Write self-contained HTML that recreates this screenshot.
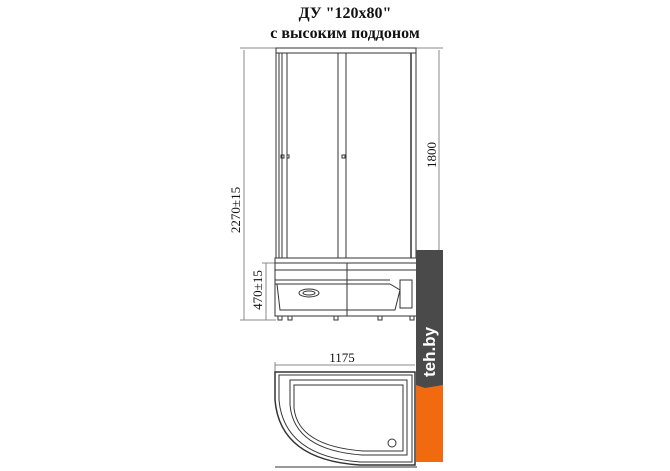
<!DOCTYPE html>
<html><head><meta charset="utf-8"><style>
html,body{margin:0;padding:0;background:#fff;width:670px;height:471px;overflow:hidden}
svg{display:block}
text{font-family:"Liberation Serif","Noto Serif CJK SC",serif;fill:#111}
</style></head><body>
<svg width="670" height="471" viewBox="0 0 670 471" xmlns="http://www.w3.org/2000/svg">
<text x="345" y="18" font-size="16" font-weight="bold" text-anchor="middle">ДУ "120x80"</text>
<text x="345" y="38" font-size="16" font-weight="bold" text-anchor="middle">с высоким поддоном</text>
<g stroke="#333" fill="none" stroke-width="1">
<line x1="244" y1="50" x2="244" y2="320" stroke="#888"/>
<line x1="240" y1="48" x2="276" y2="48" stroke="#888"/>
<line x1="240" y1="320" x2="276" y2="320" stroke="#888"/>
<line x1="266" y1="263" x2="266" y2="320" stroke="#888"/>
<line x1="262" y1="263" x2="276" y2="263" stroke="#888"/>
<line x1="439" y1="50" x2="439" y2="258" stroke="#888"/>
<line x1="416" y1="48" x2="443" y2="48" stroke="#888"/>
<rect x="276" y="48" width="140" height="210"/>
<line x1="276" y1="53" x2="416" y2="53"/>
<line x1="279" y1="53" x2="279" y2="258"/>
<line x1="282" y1="53" x2="282" y2="258"/>
<line x1="287" y1="53" x2="287" y2="258"/>
<line x1="338" y1="53" x2="338" y2="258"/>
<line x1="346" y1="53" x2="346" y2="258"/>
<line x1="411" y1="53" x2="411" y2="258" stroke-width="1.5"/>
<rect x="281" y="155" width="3" height="3"/><rect x="287" y="155" width="2" height="3"/>
<rect x="342" y="155" width="3" height="3"/>
<rect x="275" y="258" width="142" height="5"/>
<rect x="275" y="263" width="142" height="53"/>
<line x1="275" y1="270" x2="417" y2="270"/>
<line x1="275" y1="280" x2="390" y2="280"/>
<line x1="275" y1="284" x2="390" y2="284"/>
<line x1="347" y1="263" x2="347" y2="316"/>
<path d="M277 284 L280 310 L395 310 L400 290 L390 284"/>
<rect x="400" y="280" width="12" height="28"/>
<ellipse cx="309" cy="293" rx="10" ry="4"/>
<ellipse cx="309" cy="293" rx="6" ry="2"/>
<path d="M278 316v4h4v-4M288 316v4h4v-4M334 316v4h4v-4M378 316v4h4v-4M410 316v4h4v-4"/>
<line x1="275" y1="365" x2="415" y2="365" stroke="#888"/>
<line x1="275" y1="362" x2="275" y2="372" stroke="#888"/>
<path d="M275 372 L415 372 L415 465 L360 465 Q280 460 275 400 Z" stroke-width="1.5"/>
<path d="M279 375 L412 375 L412 462 L360 462 Q284 456 279 400 Z"/>
<path d="M290 380 L407 380 L407 455 L362 455 Q294 450 290 405 Z"/>
<path d="M294 385 L403 385 L403 451 L363 451 Q298 446 294 408 Z"/>
<circle cx="392" cy="443" r="4"/>
<line x1="275" y1="467" x2="417" y2="467"/>
</g>
<text font-size="13" transform="translate(240,210) rotate(-90)" text-anchor="middle">2270±15</text>
<text font-size="13" transform="translate(262,290) rotate(-90)" text-anchor="middle">470±15</text>
<text font-size="13" transform="translate(436,155) rotate(-90)" text-anchor="middle">1800</text>
<text x="342" y="362" font-size="13" text-anchor="middle">1175</text>
<rect x="416" y="250" width="27" height="138" fill="#4a4a4a"/>
<rect x="416" y="388" width="27" height="74" fill="#f26a10"/>
<path d="M416 385 L425 388 L443 385 L443 392 L416 392Z" fill="#f26a10"/>
<text transform="translate(435,352) rotate(-90)" font-size="17" font-weight="bold" style="fill:#fff;font-family:'Liberation Sans',sans-serif" text-anchor="middle">teh.by</text>
</svg>
</body></html>
